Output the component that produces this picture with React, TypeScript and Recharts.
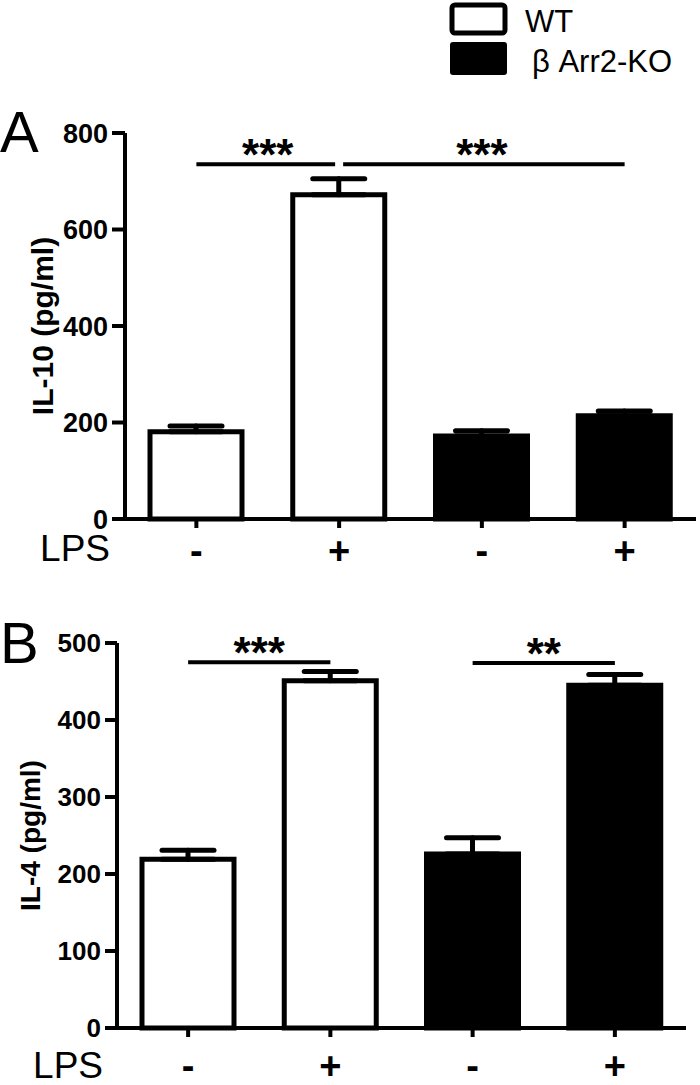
import React from 'react';
import {
  BarChart,
  Bar,
  XAxis,
  YAxis,
  ErrorBar,
  Cell,
  ReferenceLine
} from 'recharts';

// groups along the x axis
const GENOTYPES = ['WT', 'WT', 'KO', 'KO'];
const LPS = ['-', '+', '-', '+'];

// panel A: IL-10 (pg/ml), mean and SEM
const IL10_MEAN = [181, 672, 172, 214];
const IL10_SEM = [12, 33, 11, 10];
const IL10_TICKS = [0, 200, 400, 600, 800];

// panel B: IL-4 (pg/ml)
const IL4_MEAN = [219, 451, 226, 445];
const IL4_SEM = [12, 12, 21, 14];
const IL4_TICKS = [0, 100, 200, 300, 400, 500];

// significance brackets: [from index, to index, level, stars]
const IL10_SIG: [number, number, number, string][] = [
  [0, 1, 735, '***'],
  [1, 3, 735, '***']
];
const IL4_SIG: [number, number, number, string][] = [
  [0, 1, 475, '***'],
  [2, 3, 474, '**']
];

const FONT = '"Liberation Sans", Arial, sans-serif';

const catKey = (i: number) => `${GENOTYPES[i]}${LPS[i]}`;

const buildRows = (mean: number[], sem: number[]) =>
  mean.map((m, i) => ({
    key: catKey(i),
    value: m,
    err: [0, sem[i]]
  }));

// sig line drawn slightly trimmed so neighbouring brackets don't touch
const TrimmedLine = (props: any) => {
  const { x1, x2, y1, y2, trimStart = 0, trimEnd = 0 } = props;
  return (
    <line
      x1={x1 + trimStart}
      x2={x2 - trimEnd}
      y1={y1}
      y2={y2}
      stroke="#000"
      strokeWidth={4}
    />
  );
};

interface PanelProps {
  mean: number[];
  sem: number[];
  ticks: number[];
  sig: [number, number, number, string][];
  title: string;
  width: number;
  height: number;
  margin: { top: number; right: number; left: number; bottom: number };
  yAxisWidth: number;
  xAxisHeight: number;
  tickFont: number;
  titleFont: number;
  titleX: number;
  yTickSize: number;
  xTickMargin: number;
  lpsOffset: number;
  lpsDy: number;
}

const Panel: React.FC<PanelProps> = (p) => {
  const rows = buildRows(p.mean, p.sem);
  const top = p.ticks[p.ticks.length - 1];
  return (
    <BarChart width={p.width} height={p.height} data={rows} margin={p.margin}>
      <XAxis
        dataKey="key"
        height={p.xAxisHeight}
        interval={0}
        tickFormatter={(_v: string, i: number) => LPS[i]}
        tick={{ fontSize: 38, fontWeight: 700, fill: '#000', fontFamily: FONT }}
        tickSize={9}
        tickMargin={p.xTickMargin}
        axisLine={{ stroke: '#000', strokeWidth: 4 }}
        tickLine={{ stroke: '#000', strokeWidth: 4 }}
        label={{
          value: 'LPS',
          position: 'left',
          offset: p.lpsOffset,
          dy: p.lpsDy,
          style: { fontSize: 37, fill: '#000', fontFamily: FONT }
        }}
      />
      <YAxis
        width={p.yAxisWidth}
        domain={[0, top]}
        ticks={p.ticks}
        interval={0}
        tick={{ fontSize: p.tickFont, fontWeight: 700, fill: '#000', fontFamily: FONT }}
        tickSize={p.yTickSize}
        tickMargin={4}
        axisLine={{ stroke: '#000', strokeWidth: 4 }}
        tickLine={{ stroke: '#000', strokeWidth: 4 }}
        label={{
          value: p.title,
          angle: -90,
          position: 'insideLeft',
          offset: p.titleX,
          style: {
            textAnchor: 'middle',
            fontSize: p.titleFont,
            fontWeight: 700,
            fill: '#000',
            fontFamily: FONT
          }
        }}
      />
      <Bar
        dataKey="value"
        barSize={92}
        stroke="#000"
        strokeWidth={5}
        isAnimationActive={false}
      >
        {rows.map((_r, i) => (
          <Cell key={`c-${i}`} fill={GENOTYPES[i] === 'WT' ? '#fff' : '#000'} />
        ))}
        <ErrorBar
          dataKey="err"
          direction="y"
          width={26}
          stroke="#000"
          strokeWidth={5}
          strokeLinecap="round"
          isAnimationActive={false}
        />
      </Bar>
      {p.sig.map(([a, b, level, stars], i) => (
        <ReferenceLine
          key={`s-${i}`}
          segment={[
            { x: catKey(a), y: level },
            { x: catKey(b), y: level }
          ]}
          shape={(sp: any) => (
            <TrimmedLine
              {...sp}
              trimStart={i > 0 && p.sig[i - 1][1] === a ? 4 : 0}
              trimEnd={i < p.sig.length - 1 && p.sig[i + 1][0] === b ? 4 : 0}
            />
          )}
          label={{
            value: stars,
            position: 'center',
            dy: -10,
            style: { fontSize: 44, fontWeight: 700, fill: '#000', fontFamily: FONT }
          }}
        />
      ))}
    </BarChart>
  );
};

const Overlay = () => (
  <svg
    width={700}
    height={1085}
    style={{ position: 'absolute', left: 0, top: 0, pointerEvents: 'none' }}
  >
    {/* legend */}
    <rect x={452} y={5} width={53} height={28} rx={3} fill="#fff" stroke="#000" strokeWidth={5} />
    <rect x={450} y={42} width={57} height={33} rx={3} fill="#000" />
    <text x={525} y={32} fontSize={31} fill="#000" fontFamily={FONT}>WT</text>
    <text x={532} y={72} fontSize={31} fill="#000" fontFamily={FONT}>β Arr2-KO</text>
    {/* panel letters */}
    <text x={0} y={152} fontSize={58} fill="#000" fontFamily={FONT}>A</text>
    <text x={0} y={663} fontSize={58} fill="#000" fontFamily={FONT}>B</text>
  </svg>
);

export default function App() {
  return (
    <div
      style={{
        position: 'absolute',
        left: 0,
        top: 0,
        width: 700,
        height: 1085,
        background: '#fff',
        fontFamily: FONT
      }}
    >
      <div style={{ position: 'absolute', left: 0, top: 0 }}>
        <Panel
          mean={IL10_MEAN}
          sem={IL10_SEM}
          ticks={IL10_TICKS}
          sig={IL10_SIG}
          title="IL-10 (pg/ml)"
          width={700}
          height={580}
          margin={{ top: 133, right: 4, left: 0, bottom: 15 }}
          yAxisWidth={125}
          xAxisHeight={46}
          tickFont={27}
          titleFont={30}
          titleX={42}
          yTickSize={13}
          xTickMargin={9}
          lpsOffset={15}
          lpsDy={6}
        />
      </div>
      <div style={{ position: 'absolute', left: 0, top: 585 }}>
        <Panel
          mean={IL4_MEAN}
          sem={IL4_SEM}
          ticks={IL4_TICKS}
          sig={IL4_SIG}
          title="IL-4 (pg/ml)"
          width={700}
          height={500}
          margin={{ top: 58, right: 14, left: 0, bottom: 0 }}
          yAxisWidth={117}
          xAxisHeight={57}
          tickFont={26}
          titleFont={28}
          titleX={30}
          yTickSize={12}
          xTickMargin={15}
          lpsOffset={14}
          lpsDy={8}
        />
      </div>
      <Overlay />
    </div>
  );
}
